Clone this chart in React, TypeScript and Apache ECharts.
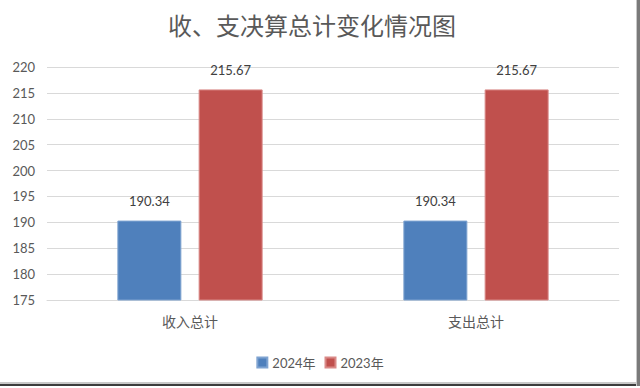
import React, { useEffect, useRef } from "react";
import * as echarts from "echarts";

const categories = ["收入总计", "支出总计"];
const seriesNames = ["2024年", "2023年"];
const values2024 = [190.34, 190.34];
const values2023 = [215.67, 215.67];
const colors = ["#4f80bc", "#c0504d"];
const titleText = "收、支决算总计变化情况图";

const FONT = "Lato, 'Noto Sans CJK SC', sans-serif";

export default function App() {
  const ref = useRef<HTMLDivElement>(null);
  useEffect(() => {
    if (!ref.current) return;
    const chart = echarts.init(ref.current, undefined, { renderer: "svg" });
    const label = {
      show: true,
      position: "top",
      distance: 13,
      fontSize: 13,
      color: "#404040",
      fontFamily: FONT,
      formatter: (p: any) => Number(p.value).toFixed(2),
    };
    chart.setOption({
      animation: false,
      backgroundColor: "#ffffff",
      textStyle: { fontFamily: FONT },
      title: {
        text: titleText,
        left: 307,
        textAlign: "center",
        top: 8,
        textStyle: { fontSize: 24, fontWeight: "normal", color: "#595959", fontFamily: FONT },
      },
      legend: {
        data: seriesNames,
        left: "center",
        top: 351,
        itemWidth: 10,
        itemHeight: 10,
        itemGap: 9,
        icon: "rect",
        textStyle: { fontSize: 13, color: "#595959", fontFamily: FONT },
      },
      grid: { left: 47, right: 21, top: 67, bottom: 88, containLabel: false },
      xAxis: {
        type: "category",
        data: categories,
        axisLine: { show: true, lineStyle: { color: "#d9d9d9", width: 1 } },
        axisTick: { show: false },
        axisLabel: { fontSize: 14, color: "#595959", margin: 14, fontFamily: FONT },
      },
      yAxis: {
        type: "value",
        min: 175,
        max: 220,
        interval: 5,
        axisLine: { show: false },
        axisTick: { show: false },
        axisLabel: { fontSize: 13, color: "#595959", margin: 12, fontFamily: FONT },
        splitLine: { lineStyle: { color: "#d9d9d9", width: 1 } },
      },
      series: [
        {
          name: seriesNames[0],
          type: "bar",
          data: values2024,
          barWidth: 64,
          barGap: "27%",
          itemStyle: { color: colors[0], borderColor: "#7fa3d1", borderWidth: 1 },
          label,
        },
        {
          name: seriesNames[1],
          type: "bar",
          data: values2023,
          barWidth: 64,
          barGap: "27%",
          itemStyle: { color: colors[1], borderColor: "#d98a88", borderWidth: 1 },
          label,
        },
      ],
      graphic: [
        { type: "rect", shape: { x: 0, y: 382, width: 640, height: 2 }, style: { fill: "#c8c8c8" }, silent: true },
        { type: "rect", shape: { x: 0, y: 384, width: 640, height: 2 }, style: { fill: "#3c3c3c" }, silent: true },
        { type: "rect", shape: { x: 636, y: 0, width: 1, height: 386 }, style: { fill: "#c8c8c8" }, silent: true },
        { type: "rect", shape: { x: 637, y: 0, width: 3, height: 386 }, style: { fill: "#7a7a7a" }, silent: true },
      ],
    });
    return () => chart.dispose();
  }, []);
  return (
    <div
      ref={ref}
      style={{ position: "fixed", left: 0, top: 0, width: 640, height: 388, background: "#fff" }}
    />
  );
}
